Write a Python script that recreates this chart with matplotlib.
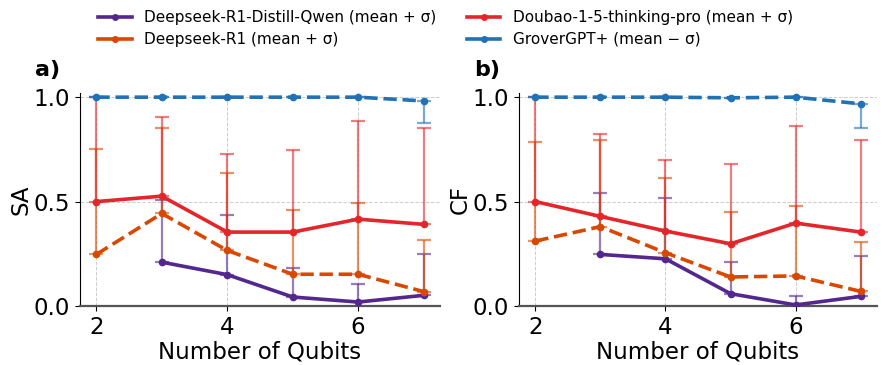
import matplotlib
matplotlib.use("Agg")
import matplotlib.pyplot as plt
from matplotlib.lines import Line2D

# Data
qubits = [2, 3, 4, 5, 6, 7]
qubits_qwen = [3, 4, 5, 6, 7]

# SA panel
sa_qwen = [0.21, 0.15, 0.043, 0.019, 0.051]
sa_qwen_up = [0.51, 0.434, 0.18, 0.105, 0.25]
sa_r1 = [0.247, 0.443, 0.266, 0.152, 0.152, 0.069]
sa_r1_up = [0.75, 0.853, 0.638, 0.459, 0.494, 0.314]
sa_doubao = [0.5, 0.526, 0.354, 0.354, 0.416, 0.391]
sa_doubao_up = [1.0, 0.904, 0.729, 0.745, 0.884, 0.852]
sa_grover = [1.0, 1.0, 1.0, 1.0, 1.0, 0.982]
sa_grover_low = [1.0, 1.0, 1.0, 1.0, 1.0, 0.874]

# CF panel
cf_qwen = [0.247, 0.226, 0.059, 0.005, 0.046]
cf_qwen_up = [0.542, 0.515, 0.21, 0.046, 0.238]
cf_r1 = [0.311, 0.38, 0.255, 0.139, 0.144, 0.07]
cf_r1_up = [0.786, 0.793, 0.612, 0.448, 0.48, 0.308]
cf_doubao = [0.5, 0.429, 0.359, 0.298, 0.397, 0.354]
cf_doubao_up = [1.0, 0.823, 0.699, 0.678, 0.86, 0.796]
cf_grover = [1.0, 1.0, 1.0, 0.997, 1.0, 0.968]
cf_grover_low = [1.0, 1.0, 1.0, 0.997, 1.0, 0.852]

labels = ["Deepseek-R1-Distill-Qwen (mean + σ)", "Deepseek-R1 (mean + σ)",
          "Doubao-1-5-thinking-pro (mean + σ)", "GroverGPT+ (mean − σ)"]
colors = ["#54278f", "#d94801", "#e3262a", "#2171b5"]
styles = ["-", "--", "-", "--"]


def draw(ax, series, ylabel, tag):
    ax.grid(True, linestyle="--", color="#cccccc", linewidth=0.7)
    ax.set_axisbelow(True)
    for (x, y, bound, upper), c, ls in zip(series, colors, styles):
        if upper:
            err = [[0] * len(y), [b - v for b, v in zip(bound, y)]]
        else:
            err = [[v - b for b, v in zip(bound, y)], [0] * len(y)]
        ax.errorbar(x, y, yerr=err, fmt="none", ecolor=c, alpha=0.6,
                    elinewidth=1.6, capsize=5, capthick=1.6)
        ax.plot(x, y, color=c, linestyle=ls, linewidth=2.6, marker="o",
                markersize=4.5, zorder=3)
    ax.set_xlim(1.75, 7.25)
    ax.set_ylim(0, 1.02)
    ax.set_xticks([2, 4, 6])
    ax.set_yticks([0.0, 0.5, 1.0])
    ax.tick_params(labelsize=16.5)
    ax.set_xlabel("Number of Qubits", fontsize=16.5, labelpad=1)
    ax.set_ylabel(ylabel, fontsize=16.5, labelpad=1)
    ax.spines["top"].set_visible(False)
    ax.spines["right"].set_visible(False)
    ax.spines["bottom"].set_color("#555555")
    ax.spines["bottom"].set_linewidth(1.6)
    ax.text(-0.125, 1.06, tag, transform=ax.transAxes, fontsize=16,
            fontweight="bold", va="bottom")


fig = plt.figure(figsize=(8.82, 3.65), dpi=100)
ax1 = fig.add_axes([80 / 882, 59 / 365, 360 / 882, 213 / 365])
ax2 = fig.add_axes([519 / 882, 59 / 365, 358 / 882, 213 / 365])

draw(ax1, [(qubits_qwen, sa_qwen, sa_qwen_up, True),
           (qubits, sa_r1, sa_r1_up, True),
           (qubits, sa_doubao, sa_doubao_up, True),
           (qubits, sa_grover, sa_grover_low, False)], "SA", "a)")
draw(ax2, [(qubits_qwen, cf_qwen, cf_qwen_up, True),
           (qubits, cf_r1, cf_r1_up, True),
           (qubits, cf_doubao, cf_doubao_up, True),
           (qubits, cf_grover, cf_grover_low, False)], "CF", "b)")

handles = [Line2D([], [], color=c, linewidth=2.6, marker="o", markersize=4)
           for c in colors]
fig.legend(handles, labels, ncol=2, loc="upper center",
           bbox_to_anchor=(0.505, 1.01), frameon=False, fontsize=11,
           handlelength=2.2, columnspacing=2.0, labelspacing=0.45)

fig.savefig("out.png", dpi=100)
